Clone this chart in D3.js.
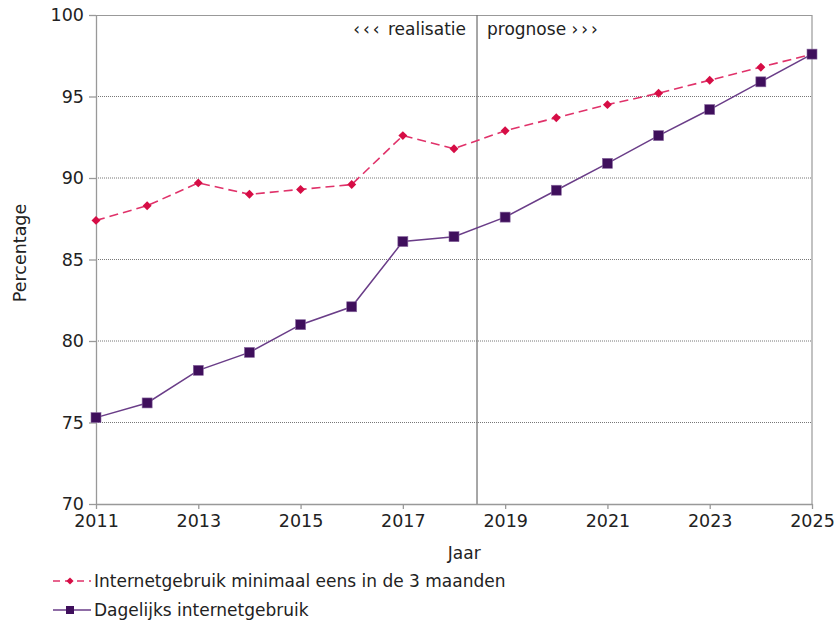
<!DOCTYPE html>
<html>
<head>
<meta charset="utf-8">
<script src="https://cdn.jsdelivr.net/npm/d3@7"></script>
<style>
  body { margin: 0; background: #fff; }
  svg { font-family: "DejaVu Sans", Verdana, sans-serif; }
</style>
</head>
<body>
<svg id="chart" width="838" height="620"></svg>
<script>
// Data
const years = d3.range(2011, 2026);
const minimaal = [87.4, 88.3, 89.7, 89.0, 89.3, 89.6, 92.6, 91.8, 92.9, 93.7, 94.5, 95.2, 96.0, 96.8, 97.6];
const dagelijks = [75.3, 76.2, 78.2, 79.3, 81.0, 82.1, 86.1, 86.4, 87.6, 89.25, 90.9, 92.6, 94.2, 95.9, 97.6];
const seriesNames = ["Internetgebruik minimaal eens in de 3 maanden", "Dagelijks internetgebruik"];
const xTicks = [2011, 2013, 2015, 2017, 2019, 2021, 2023, 2025];
const yTicks = [70, 75, 80, 85, 90, 95, 100];
const splitYear = 2018.45;

// Setup
const margin = { top: 15, right: 26, bottom: 116, left: 96 };
const svg = d3.select("#chart");
const width = 838 - margin.left - margin.right;
const height = 620 - margin.top - margin.bottom;
const fs = 17;

const x = d3.scaleLinear().domain([2011, 2025]).range([0, width]);
const y = d3.scaleLinear().domain([70, 100]).range([height, 0]);

const g = svg.append("g").attr("transform", `translate(${margin.left},${margin.top})`);

// Grid lines
g.selectAll(".grid")
  .data(yTicks.filter(d => d > 70 && d < 100))
  .join("line")
  .attr("x1", 0).attr("x2", width)
  .attr("y1", d => y(d)).attr("y2", d => y(d))
  .attr("stroke", "#777")
  .attr("stroke-width", 1)
  .attr("stroke-dasharray", "1,1");

// Frame: top and right
g.append("line").attr("x1", 0).attr("x2", width).attr("y1", 0.5).attr("y2", 0.5)
  .attr("stroke", "#999").attr("stroke-width", 1.2);
g.append("line").attr("x1", width).attr("x2", width).attr("y1", 0).attr("y2", height)
  .attr("stroke", "#999").attr("stroke-width", 1.2);

// Split line + labels
g.append("line")
  .attr("x1", x(splitYear)).attr("x2", x(splitYear))
  .attr("y1", 0).attr("y2", height)
  .attr("stroke", "#777").attr("stroke-width", 1.3);

const left = g.append("text")
  .attr("x", x(splitYear) - 11).attr("y", 20)
  .attr("text-anchor", "end")
  .attr("font-size", fs).attr("fill", "#222");
left.append("tspan").attr("letter-spacing", 3).text("‹‹‹");
left.append("tspan").text(" realisatie");

const right = g.append("text")
  .attr("x", x(splitYear) + 10).attr("y", 20)
  .attr("font-size", fs).attr("fill", "#222");
right.append("tspan").text("prognose ");
right.append("tspan").attr("letter-spacing", 3).text("›››");

// Axes
const yAxis = g.append("g")
  .call(d3.axisLeft(y).tickValues(yTicks).tickSize(7).tickSizeOuter(0).tickPadding(5));
const xAxis = g.append("g")
  .attr("transform", `translate(0,${height})`)
  .call(d3.axisBottom(x).tickValues(xTicks).tickFormat(d3.format("d")).tickSize(5).tickSizeOuter(0).tickPadding(6));
[xAxis, yAxis].forEach(a => {
  a.selectAll("path, line").attr("stroke", "#999").attr("stroke-width", 1.3);
  a.selectAll("text").attr("font-size", 17.5).attr("fill", "#222")
    .attr("font-family", "\"DejaVu Sans\", Verdana, sans-serif");
});

// Axis titles
svg.append("text")
  .attr("x", margin.left + x(2018.2)).attr("y", 559)
  .attr("text-anchor", "middle").attr("font-size", fs).attr("fill", "#222")
  .text("Jaar");
svg.append("text")
  .attr("transform", `translate(26,${margin.top + y(85.4)}) rotate(-90)`)
  .attr("text-anchor", "middle").attr("font-size", 17.5).attr("fill", "#222")
  .text("Percentage");

// Lines
const line = d3.line().x((d, i) => x(years[i])).y(d => y(d));
const red = "#d60d45";
const purple = "#3f0f5c";

g.append("path")
  .attr("d", line(minimaal))
  .attr("fill", "none").attr("stroke", "#e0326a")
  .attr("stroke-width", 1.6).attr("stroke-dasharray", "9,5");

g.append("path")
  .attr("d", line(dagelijks))
  .attr("fill", "none").attr("stroke", "#6a3d88")
  .attr("stroke-width", 1.5);

const diamond = d3.symbol().type(d3.symbolSquare).size(40);
g.selectAll(".dia")
  .data(minimaal)
  .join("path")
  .attr("d", diamond)
  .attr("transform", (d, i) => `translate(${x(years[i])},${y(d)}) rotate(45)`)
  .attr("fill", red);

g.selectAll(".sq")
  .data(dagelijks)
  .join("rect")
  .attr("x", (d, i) => x(years[i]) - 5)
  .attr("y", d => y(d) - 5)
  .attr("width", 10).attr("height", 10)
  .attr("fill", purple)
  .attr("stroke", "#8a6aa0").attr("stroke-width", 0.6);

// Legend
const legend = svg.append("g").attr("transform", "translate(53,581)");
legend.append("line").attr("x1", 0).attr("x2", 38).attr("y1", 0).attr("y2", 0)
  .attr("stroke", "#e0326a").attr("stroke-width", 1.6).attr("stroke-dasharray", "7,5");
legend.append("path").attr("d", d3.symbol().type(d3.symbolSquare).size(26))
  .attr("transform", "translate(17,0) rotate(45)").attr("fill", red);
legend.append("text").attr("x", 41).attr("y", 0).attr("dy", "0.35em")
  .attr("font-size", fs).attr("fill", "#222").text(seriesNames[0]);

legend.append("line").attr("x1", 0).attr("x2", 38).attr("y1", 29).attr("y2", 29)
  .attr("stroke", "#6a3d88").attr("stroke-width", 1.5);
legend.append("rect").attr("x", 13).attr("y", 25).attr("width", 8).attr("height", 8).attr("fill", purple);
legend.append("text").attr("x", 41).attr("y", 29).attr("dy", "0.35em")
  .attr("font-size", fs).attr("fill", "#222").text(seriesNames[1]);
</script>
</body>
</html>
